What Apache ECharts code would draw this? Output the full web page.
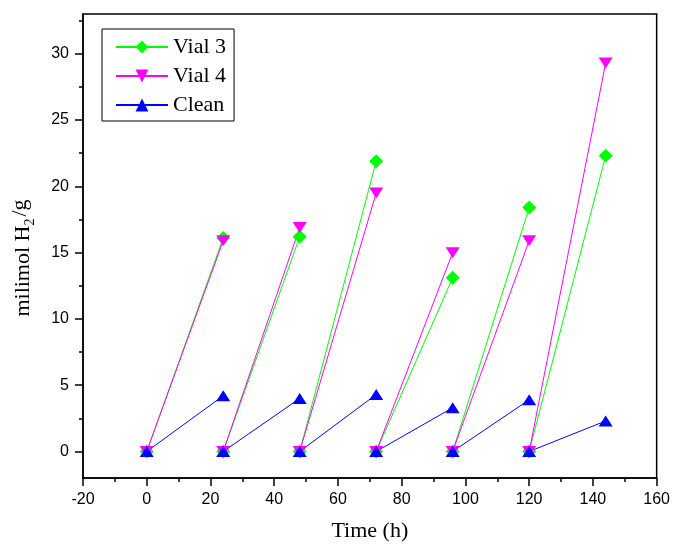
<!DOCTYPE html>
<html>
<head>
<meta charset="utf-8">
<script src="https://cdn.jsdelivr.net/npm/echarts@6/dist/echarts.min.js"></script>
<style>
  html, body { margin: 0; padding: 0; background: #fff; }
  #chart { width: 673px; height: 549px; }
</style>
</head>
<body>
<div id="chart"></div>
<script>
// 每一段都是从 0 开始，到下一个时间点结束
var segStart = [0, 24, 48, 72, 96, 120];
var segEnd = [24, 48, 72, 96, 120, 144];
var vial3 = [16.1, 16.2, 21.9, 13.1, 18.4, 22.3];
var vial4 = [15.9, 16.9, 19.5, 15.0, 15.9, 29.3];
var clean = [4.2, 4.0, 4.3, 3.3, 3.9, 2.3];
var xTicks = [-20, 0, 20, 40, 60, 80, 100, 120, 140, 160];
var yTicks = [0, 5, 10, 15, 20, 25, 30];
var yMinorTicks = [2.5, 7.5, 12.5, 17.5, 22.5, 27.5, 32.5];

// 把每段拆开，段之间用 '-' 断开
function buildData(vals) {
  var out = [];
  for (var i = 0; i < vals.length; i++) {
    out.push([segStart[i], 0]);
    out.push([segEnd[i], vals[i]]);
    if (i < vals.length - 1) out.push([segEnd[i], '-']);
  }
  return out;
}

(function () {
  var myChart = echarts.init(document.getElementById('chart'));
  var labelFont = { color: '#000', fontSize: 16, fontFamily: 'Liberation Sans, Arial, sans-serif' };
  var serif = 'Liberation Serif, Times New Roman, serif';
  var option = {
    animation: false,
    color: ['#00ff00', '#ff00ff', '#0000ff'],
    grid: {
      left: 83,
      right: 16,
      top: 14,
      bottom: 71,
      show: true,
      borderColor: '#000',
      borderWidth: 1.5
    },
    legend: {
      orient: 'vertical',
      left: 102,
      top: 29,
      borderColor: '#000',
      borderWidth: 1,
      padding: [7, 8, 5, 13],
      itemWidth: 52,
      itemHeight: 16,
      itemGap: 7,
      textStyle: { color: '#000', fontSize: 22, fontFamily: serif },
      data: ['Vial 3', 'Vial 4', 'Clean']
    },
    xAxis: {
      type: 'value',
      min: xTicks[0],
      max: xTicks[xTicks.length - 1],
      interval: 20,
      name: 'Time (h)',
      nameLocation: 'middle',
      nameGap: 42,
      nameTextStyle: { color: '#000', fontSize: 22, fontFamily: serif },
      axisLine: { onZero: false, lineStyle: { color: '#000', width: 1.5 } },
      axisTick: { length: 8, lineStyle: { color: '#000', width: 1.5 } },
      minorTick: { show: true, splitNumber: 2, length: 4, lineStyle: { color: '#000', width: 1.5 } },
      axisLabel: Object.assign({ margin: 14 }, labelFont),
      splitLine: { show: false }
    },
    yAxis: [{
      type: 'value',
      min: -2,
      max: 33,
      name: 'milimol H{sub|2}{sl|/g}',
      nameLocation: 'middle',
      nameGap: 46,
      nameTextStyle: {
        color: '#000', fontSize: 22, fontFamily: serif,
        padding: [0, 24, 0, 0],
        rich: {
          sub: { fontSize: 14, fontFamily: serif, color: '#000', verticalAlign: 'bottom', padding: [10, 0, 0, 0] },
          sl: { fontSize: 22, fontFamily: serif, color: '#000', padding: [0, 0, 6, 2] }
        }
      },
      axisLine: { show: true, onZero: false, lineStyle: { color: '#000', width: 1.5 } },
      axisTick: { length: 8, customValues: yTicks, lineStyle: { color: '#000', width: 1.5 } },
      axisLabel: Object.assign({ margin: 14, customValues: yTicks }, labelFont),
      splitLine: { show: false }
    }, {
      // 只画次刻度
      type: 'value',
      position: 'left',
      min: -2,
      max: 33,
      axisLine: { show: false, onZero: false },
      axisTick: { length: 4, customValues: yMinorTicks, lineStyle: { color: '#000', width: 1.5 } },
      axisLabel: { show: false },
      splitLine: { show: false }
    }],
    series: [{
      name: 'Vial 3',
      type: 'line',
      data: buildData(vial3),
      symbol: 'diamond',
      symbolSize: [14, 14],
      lineStyle: { width: 1 }
    }, {
      name: 'Vial 4',
      type: 'line',
      data: buildData(vial4),
      symbol: 'triangle',
      symbolRotate: 180,
      symbolSize: [14, 11],
      lineStyle: { width: 1 }
    }, {
      name: 'Clean',
      type: 'line',
      data: buildData(clean),
      symbol: 'triangle',
      symbolSize: [14, 11],
      lineStyle: { width: 1 }
    }]
  };
  myChart.setOption(option);
  window.addEventListener('resize', function () {
    myChart.resize();
  });
})();
</script>
</body>
</html>
